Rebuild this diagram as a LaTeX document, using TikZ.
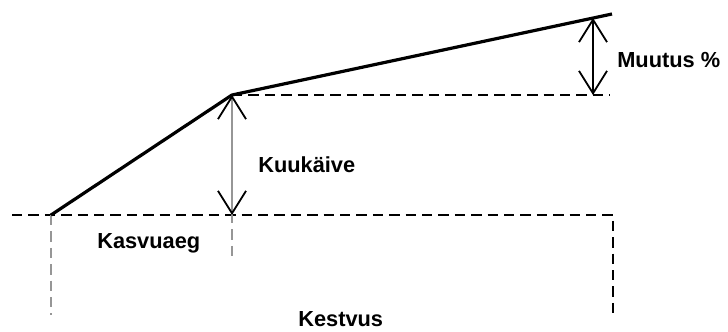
\documentclass[tikz,border=0pt]{standalone}
\usepackage{fontspec}
\setmainfont{Liberation Sans}
\usetikzlibrary{arrows.meta}
\definecolor{leadgray}{RGB}{150,150,150}

\begin{document}
\begin{tikzpicture}[x=.25mm,y=-.25mm,font=\fontsize{15.5}{18}\selectfont\bfseries,
  guide/.style={line width=.6mm,dash pattern=on 2.6mm off 1.5mm},
  barb/.tip={Straight Barb[length=5.6mm,width=7mm,line width=.45mm,color=black]},
  span/.style={barb-barb,line width=.5mm},
  lbl/.style={anchor=base west,inner sep=0pt}]
\path[use as bounding box] (0,0) rectangle (728,331);
% points of the growth curve
\coordinate (start) at (51,215);
\coordinate (kink) at (232,95);
\coordinate (end) at (612,14);
\coordinate (top) at (593,18);
\coordinate (level) at (593,95);
\coordinate (foot) at (232,215);
% reference levels and time marks
\draw[guide] (12,215) -- (613,215) -- (613,314);
\draw[guide] (kink) -- (610,95);
\draw[guide,leadgray] (start) -- (51,315);
\draw[guide,leadgray] (232,213) -- (232,257);
% the curve itself
\draw[line width=.8mm,line join=round] (start) -- (kink) -- (end);
\draw[span,leadgray] (kink) -- (foot);
\draw[span] (top) -- (level);
\node[lbl] (change) at (617,68) {Muutus \%};
\node[lbl] (turnover) at (258,172) {Kuukäive};
\node[lbl] (growth) at (97,248) {Kasvuaeg};
\node[lbl] (length) at (298,326) {Kestvus};
\end{tikzpicture}
\end{document}
